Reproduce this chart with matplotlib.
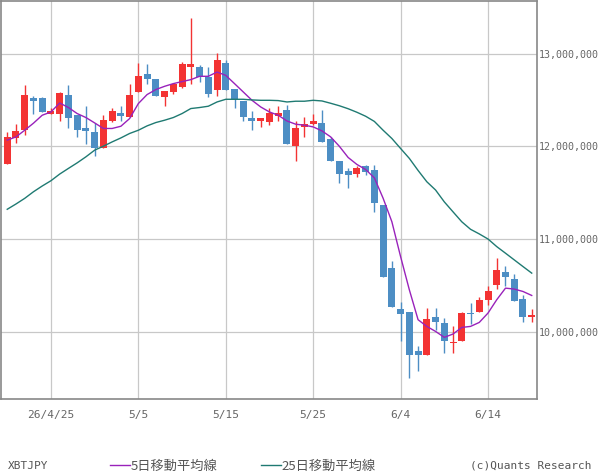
import matplotlib
matplotlib.use('Agg')
import matplotlib.pyplot as plt
from matplotlib.ticker import FuncFormatter
import numpy as np
import pandas as pd

# daily XBT/JPY candles, 2026-04-20 .. 2026-06-19 (thousands of yen)
dates = pd.date_range('2026-04-20', periods=61, freq='D')

opens = [11808, 12085, 12174, 12522, 12519, 12350, 12350, 12551, 12336, 12196,
         12153, 11984, 12274, 12357, 12318, 12587, 12777, 12723, 12533, 12587,
         12637, 12853, 12853, 12745, 12605, 12896, 12616, 12487, 12307, 12274,
         12264, 12328, 12390, 12005, 12210, 12242, 12250, 12077, 11841, 11733,
         11704, 11787, 11744, 11367, 10686, 10244, 10212, 9796, 9745, 10162,
         10097, 9878, 9896, 10205, 10208, 10337, 10509, 10646, 10571, 10355,
         10158]
highs = [12153, 12239, 12659, 12540, 12537, 12411, 12583, 12659, 12336, 12433,
         12247, 12336, 12411, 12433, 12673, 12899, 12885, 12723, 12594, 12684,
         12910, 13380, 12874, 12853, 13006, 12928, 12616, 12487, 12379, 12307,
         12414, 12433, 12444, 12279, 12314, 12354, 12390, 12102, 11841, 11765,
         11787, 11798, 11801, 11367, 10764, 10320, 10212, 9842, 10255, 10255,
         10151, 10065, 10215, 10305, 10369, 10495, 10797, 10711, 10624, 10395,
         10248]
lows = [11808, 12038, 12121, 12354, 12371, 12350, 12274, 12199, 12102, 12024,
        11898, 11984, 12264, 12274, 12318, 12587, 12673, 12540, 12436, 12565,
        12626, 12673, 12694, 12533, 12544, 12605, 12414, 12274, 12174, 12210,
        12231, 12274, 12024, 11844, 12102, 12231, 12048, 11844, 11607, 11553,
        11672, 11690, 11295, 10595, 10262, 9896, 9497, 9573, 9745, 10022,
        9767, 9767, 9896, 10086, 10208, 10283, 10466, 10498, 10326, 10100,
        10100]
closes = [12102, 12164, 12551, 12490, 12371, 12379, 12573, 12307, 12178, 12167,
          11984, 12282, 12379, 12328, 12551, 12756, 12723, 12540, 12594, 12673,
          12885, 12885, 12748, 12565, 12928, 12605, 12516, 12318, 12274, 12307,
          12361, 12357, 12024, 12196, 12236, 12271, 12048, 11844, 11704, 11693,
          11765, 11726, 11392, 10595, 10262, 10186, 9752, 9745, 10137, 10100,
          9896, 9889, 10205, 10186, 10345, 10441, 10667, 10585, 10326, 10154,
          10183]

# moving averages as drawn on the chart
ma5 = [12067, 12102, 12174, 12250, 12336, 12371, 12468, 12419, 12354, 12311,
       12253, 12193, 12193, 12217, 12300, 12462, 12559, 12613, 12648, 12677,
       12699, 12720, 12756, 12756, 12802, 12766, 12677, 12587, 12497, 12425,
       12371, 12336, 12274, 12239, 12228, 12210, 12167, 12102, 12000, 11880,
       11805, 11750, 11660, 11440, 11187, 10810, 10452, 10129, 10057, 10003,
       9939, 9975, 10046, 10057, 10100, 10201, 10345, 10470, 10460, 10434,
       10391]
ma25 = [11321, 11378, 11439, 11510, 11572, 11629, 11701, 11762, 11822, 11887,
        11959, 12002, 12048, 12091, 12139, 12174, 12221, 12257, 12282, 12311,
        12354, 12408, 12419, 12433, 12479, 12508, 12508, 12508, 12501, 12497,
        12497, 12494, 12479, 12487, 12487, 12497, 12490, 12465, 12438, 12406,
        12368, 12325, 12269, 12174, 12085, 11977, 11870, 11740, 11618, 11529,
        11401, 11293, 11186, 11105, 11055, 11000, 10918, 10847, 10775, 10703,
        10632]

tick_dates = ['2026-04-25', '2026-05-05', '2026-05-15', '2026-05-25', '2026-06-04', '2026-06-14']
tick_labels = ['26/4/25', '5/5', '5/15', '5/25', '6/4', '6/14']
y_ticks = [10000000, 11000000, 12000000, 13000000]

scale = 1000
o = np.array(opens) * scale
h = np.array(highs) * scale
l = np.array(lows) * scale
c = np.array(closes) * scale

up_col = '#f33333'
down_col = '#4d8ec4'
colors = [up_col if cc >= oo else down_col for oo, cc in zip(o, c)]

fig = plt.figure(figsize=(6, 4.75), dpi=100)
ax = fig.add_axes([0.5 / 600, 76.5 / 475, 536.5 / 600, 398 / 475])

# wicks then bodies
ax.vlines(dates, l, h, colors=colors, linewidth=1.0, zorder=2)
body_low = np.minimum(o, c)
body_h = np.maximum(np.abs(c - o), 12000)
ax.bar(dates, body_h, bottom=body_low, width=0.8, color=colors, linewidth=0, zorder=3)

l5, = ax.plot(dates, np.array(ma5) * scale, color='#9922bb', linewidth=1.0, zorder=4, label='5日移動平均線')
l25, = ax.plot(dates, np.array(ma25) * scale, color='#1f7a72', linewidth=1.0, zorder=4, label='25日移動平均線')

ax.set_xlim(dates[0] - pd.Timedelta(hours=18.5), dates[-1] + pd.Timedelta(hours=14.5))
ax.set_ylim(9279000, 13574000)

ax.set_xticks(pd.to_datetime(tick_dates))
ax.set_xticklabels(tick_labels, family='DejaVu Sans Mono')
ax.set_yticks(y_ticks)
ax.yaxis.set_major_formatter(FuncFormatter(lambda v, p: f'{v:,.0f}'))
ax.yaxis.tick_right()
for lab in ax.get_yticklabels():
    lab.set_family('DejaVu Sans Mono')

ax.tick_params(axis='x', length=0, labelsize=8, labelcolor='#666666', pad=8)
ax.tick_params(axis='y', length=0, labelsize=7.2, labelcolor='#666666', pad=1.5)

ax.grid(True, color='#c8c8c8', linewidth=0.9)
ax.set_axisbelow(True)
for sp in ax.spines.values():
    sp.set_color('#888888')
    sp.set_linewidth(1.2)

# bottom caption row
fig.text(8 / 600, 9 / 475, 'XBTJPY', fontsize=8, color='#555555', va='center', family='DejaVu Sans Mono')
fig.text(591 / 600, 9 / 475, '(c)Quants Research', fontsize=8, color='#555555', va='center', ha='right',
         family='DejaVu Sans Mono')
fig.legend(handles=[l5, l25], loc='center left', bbox_to_anchor=(110 / 600, 9 / 475),
           bbox_transform=fig.transFigure, ncol=2, frameon=False,
           handlelength=1.5, handletextpad=0.05, columnspacing=3.3, borderaxespad=0, borderpad=0,
           prop={'family': ['Noto Sans CJK JP', 'DejaVu Sans'], 'size': 9.5}, labelcolor='#555555')

fig.savefig('out.png', dpi=100)
